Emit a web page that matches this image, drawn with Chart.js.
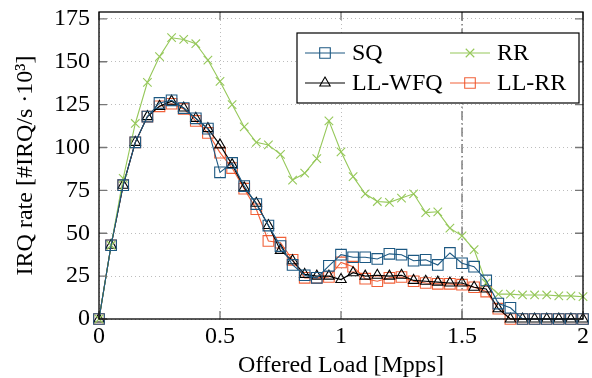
<!DOCTYPE html>
<html>
<head>
<meta charset="utf-8">
<script src="https://cdn.jsdelivr.net/npm/chart.js@4.4.1/dist/chart.umd.min.js"></script>
<style>
	body { margin: 0; background: #fff; }
	#wrap { width: 592px; height: 378px; }
</style>
</head>
<body>
<div id="wrap"><canvas id="irqChart" width="592" height="378"></canvas></div>
<script>
// offered load in Mpps
const offeredLoad = [0, 0.05, 0.1, 0.15, 0.2, 0.25, 0.3, 0.35, 0.4, 0.45,
	0.5, 0.55, 0.6, 0.65, 0.7, 0.75, 0.8, 0.85, 0.9, 0.95,
	1, 1.05, 1.1, 1.15, 1.2, 1.25, 1.3, 1.35, 1.4, 1.45,
	1.5, 1.55, 1.6, 1.65, 1.7, 1.75, 1.8, 1.85, 1.9, 1.95, 2];

// IRQ rate, #IRQ/s * 10^3
const sqRate = [0, 43, 78, 103, 118, 126, 127.5, 123, 117, 111,
	85.5, 91, 77.5, 67, 54.5, 42.5, 31.5, 25.5, 24, 31,
	37.5, 36, 36, 35, 38, 37.5, 34, 34.5, 31.5, 38.5,
	32.5, 30.5, 22.5, 9, 6.5, 0, 0, 0, 0, 0, 0];
const rrRate = [0, 43, 82, 114, 138, 153, 164, 163, 160.5, 151,
	138.5, 125, 112, 103, 101.5, 96, 81, 85, 93.5, 115.5,
	97.5, 83, 73, 68.5, 68, 70.5, 73, 62, 62.5, 53,
	48.5, 40.5, 21, 14.5, 14.5, 14, 14, 14, 13.5, 13.5, 13];
const llWfqRate = [0, 43, 78, 103, 118, 124, 127, 123, 117, 111,
	101.5, 90, 76.5, 67.5, 54.5, 40, 34, 26, 25, 25,
	23, 27, 25, 25.5, 25, 25.5, 22.5, 22, 21.5, 21,
	21, 18.5, 17.5, 6, 0, 0, 0, 0, 0, 0, 0];
const llRrRate = [0, 43, 78, 103, 118, 124, 125.5, 122.5, 115.5, 108.5,
	97, 88, 76, 64, 45.5, 44.5, 34.5, 24, 24, 24.5,
	33, 30.5, 23.5, 22, 24, 24.5, 22, 21, 20.5, 20.5,
	20, 18.5, 16, 6, 0, 0, 0, 0, 0, 0, 0];

const xTicks = [0, 0.5, 1, 1.5, 2];
const yTicks = [0, 25, 50, 75, 100, 125, 150, 175];
const markerLoad = 1.5; // dash-dotted line

const FONT = "'Liberation Serif', 'Times New Roman', serif";

const series = [
	{ label: "SQ", data: sqRate, color: "rgba(28, 88, 130, 1)", mark: "square" },
	{ label: "RR", data: rrRate, color: "rgba(150, 200, 90, 1)", mark: "cross" },
	{ label: "LL-WFQ", data: llWfqRate, color: "rgba(0, 0, 0, 1)", mark: "triangle" },
	{ label: "LL-RR", data: llRrRate, color: "rgba(238, 80, 36, 0.9)", mark: "square" }
];

const markStyle = { square: "rect", cross: "crossRot", triangle: "triangle" };
const markSize = { square: 7.5, cross: 6, triangle: 6 };

function drawMark(ctx, mark, x, y, color) {
	ctx.save();
	ctx.strokeStyle = color;
	ctx.lineWidth = 1.1;
	ctx.beginPath();
	if (mark === "square") {
		const s = markSize.square * Math.SQRT1_2;
		ctx.rect(x - s, y - s, 2 * s, 2 * s);
	} else if (mark === "cross") {
		const s = markSize.cross * Math.SQRT1_2;
		ctx.moveTo(x - s, y - s); ctx.lineTo(x + s, y + s);
		ctx.moveTo(x - s, y + s); ctx.lineTo(x + s, y - s);
	} else {
		const r = markSize.triangle;
		ctx.moveTo(x, y - r);
		ctx.lineTo(x + r * 0.866, y + r / 2);
		ctx.lineTo(x - r * 0.866, y + r / 2);
		ctx.closePath();
	}
	ctx.stroke();
	ctx.restore();
}

const framePlugin = {
	id: "frame",
	beforeDatasetsDraw(chart) {
		const { ctx, chartArea: a, scales: { x } } = chart;
		const px = x.getPixelForValue(markerLoad);
		ctx.save();
		ctx.strokeStyle = "#6e6e6e";
		ctx.lineWidth = 1.3;
		ctx.setLineDash([9, 3, 1.5, 3]);
		ctx.beginPath();
		ctx.moveTo(px, a.top);
		ctx.lineTo(px, a.bottom);
		ctx.stroke();
		ctx.restore();
	},
	afterDatasetsDraw(chart) {
		const { ctx, chartArea: a, scales: { x, y } } = chart;
		ctx.save();
		// tick marks inside the box
		ctx.strokeStyle = "#777";
		ctx.lineWidth = 1.3;
		ctx.beginPath();
		xTicks.forEach(v => {
			const px = x.getPixelForValue(v);
			ctx.moveTo(px, a.bottom); ctx.lineTo(px, a.bottom - 8);
			ctx.moveTo(px, a.top); ctx.lineTo(px, a.top + 8);
		});
		yTicks.forEach(v => {
			const py = y.getPixelForValue(v);
			ctx.moveTo(a.left, py); ctx.lineTo(a.left + 8, py);
			ctx.moveTo(a.right, py); ctx.lineTo(a.right - 8, py);
		});
		ctx.stroke();
		// frame
		ctx.strokeStyle = "#000";
		ctx.lineWidth = 1.3;
		ctx.strokeRect(a.left, a.top, a.right - a.left, a.bottom - a.top);
		ctx.restore();
	},
	afterDraw(chart) {
		const { ctx, chartArea: a } = chart;
		const bx = a.left + 198, by = a.top + 21;
		const bw = a.right - 4 - bx, bh = 70;
		ctx.save();
		ctx.fillStyle = "#fff";
		ctx.fillRect(bx, by, bw, bh);
		ctx.strokeStyle = "#000";
		ctx.lineWidth = 1.2;
		ctx.strokeRect(bx, by, bw, bh);
		ctx.font = "24px " + FONT;
		ctx.textBaseline = "middle";
		ctx.fillStyle = "#000";
		// order of entries: SQ, RR / LL-WFQ, LL-RR
		const cols = [bx + 8, bx + 153];
		const rows = [by + 20, by + 50];
		[0, 1, 2, 3].forEach(i => {
			const s = series[i];
			const lx = cols[i % 2], ly = rows[Math.floor(i / 2)];
			ctx.strokeStyle = s.color;
			ctx.lineWidth = 1.1;
			ctx.beginPath();
			ctx.moveTo(lx, ly); ctx.lineTo(lx + 40, ly);
			ctx.stroke();
			drawMark(ctx, s.mark, lx + 20, ly, s.color);
			ctx.fillText(s.label, lx + 47, ly + 1);
		});
		ctx.restore();
	}
};

function plotIrqRates() {
	const ctx = document.getElementById("irqChart").getContext("2d");
	new Chart(ctx, {
		type: "line",
		data: {
			datasets: series.map(s => ({
				label: s.label,
				data: offeredLoad.map((v, i) => ({ x: v, y: s.data[i] })),
				borderColor: s.color,
				borderWidth: 1.1,
				pointStyle: markStyle[s.mark],
				pointRadius: markSize[s.mark],
				pointBorderColor: s.color,
				pointBackgroundColor: "rgba(0,0,0,0)",
				pointBorderWidth: 1.1,
				tension: 0,
				fill: false,
				clip: false
			}))
		},
		options: {
			responsive: false,
			animation: false,
			layout: { padding: { top: 12, right: 9, left: 0, bottom: 0 } },
			plugins: {
				legend: { display: false },
				tooltip: { enabled: false }
			},
			scales: {
				x: {
					type: "linear",
					min: 0,
					max: 2,
					afterFit: scale => {
						scale.height = 59;
						scale.paddingLeft = 0;
						scale.paddingRight = 0;
					},
					afterBuildTicks: scale => { scale.ticks = xTicks.map(v => ({ value: v })); },
					grid: { color: "#bdbdbd", lineWidth: 1, drawTicks: false },
					border: { display: false, dash: [1, 3] },
					ticks: {
						color: "#000",
						padding: 3,
						font: { family: FONT, size: 24 },
						callback: v => String(v)
					},
					title: {
						display: true,
						text: "Offered Load [Mpps]",
						color: "#000",
						font: { family: FONT, size: 24, lineHeight: 1 },
						padding: { top: 0, bottom: 0 }
					}
				},
				y: {
					min: 0,
					max: 179,
					afterFit: scale => {
						scale.width = 99;
						scale.paddingTop = 0;
						scale.paddingBottom = 0;
					},
					afterBuildTicks: scale => { scale.ticks = yTicks.map(v => ({ value: v })); },
					grid: { color: "#bdbdbd", lineWidth: 1, drawTicks: false },
					border: { display: false, dash: [1, 3] },
					ticks: {
						color: "#000",
						padding: 9,
						font: { family: FONT, size: 24 },
						callback: v => String(v)
					},
					title: {
						display: true,
						text: "IRQ rate [#IRQ/s ·10³]",
						color: "#000",
						font: { family: FONT, size: 24, lineHeight: 1 },
						padding: { top: 14, bottom: 0 }
					}
				}
			}
		},
		plugins: [framePlugin]
	});
}

plotIrqRates();
</script>
</body>
</html>
